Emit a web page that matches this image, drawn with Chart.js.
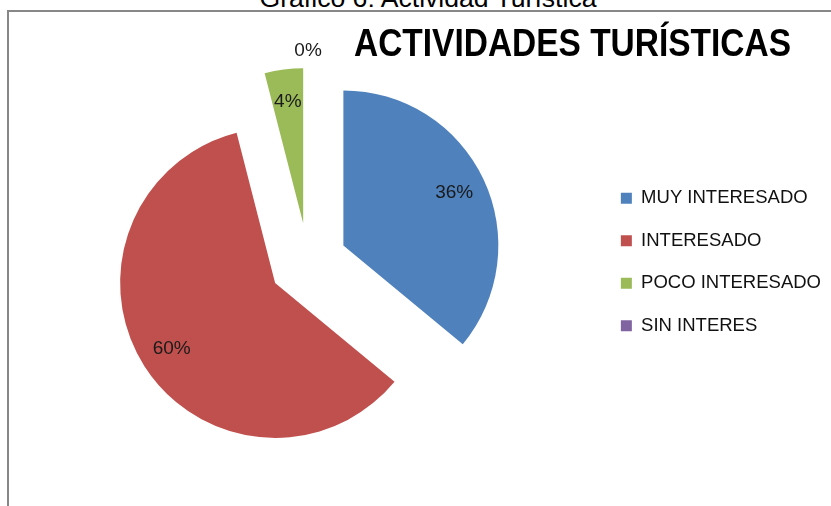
<!DOCTYPE html>
<html><head><meta charset="utf-8">
<script src="https://cdn.jsdelivr.net/npm/chart.js@4"></script>
<style>
html,body{margin:0;padding:0;width:831px;height:506px;overflow:hidden;background:#fff;}
#frame{position:absolute;left:7px;top:10px;width:900px;height:600px;border:2px solid #878787;box-sizing:border-box;}
#caption{position:absolute;left:0;top:-17px;width:856px;text-align:center;font-family:'Liberation Sans',Arial,sans-serif;font-size:26.6px;line-height:30px;color:#000;white-space:nowrap;}
#wrap{position:absolute;left:0;top:0;width:831px;height:506px;}
</style></head>
<body>
<div id="frame"></div>
<div id="caption">Gráfico 6: Actividad Turística</div>
<div id="wrap"><canvas id="c" width="831" height="506"></canvas></div>
<script>
const categories = ['MUY INTERESADO', 'INTERESADO', 'POCO INTERESADO', 'SIN INTERES'];
const percentages = [36, 60, 4, 0];
const sliceColors = ['#4F81BD', '#C0504D', '#9BBB59', '#8064A2'];
const chartTitle = 'ACTIVIDADES TURÍSTICAS';

const EXPLODE = 39;

const explodePlugin = {
  id: 'explode',
  beforeDatasetDraw(chart, args) {
    const ctx = chart.ctx;
    args.meta.data.forEach(arc => {
      const mid = (arc.startAngle + arc.endAngle) / 2;
      ctx.save();
      ctx.translate(Math.cos(mid) * EXPLODE, Math.sin(mid) * EXPLODE);
      arc.draw(ctx);
      ctx.restore();
    });
    return false;
  }
};

const labelPlugin = {
  id: 'sliceLabels',
  afterDatasetsDraw(chart) {
    const ctx = chart.ctx;
    const meta = chart.getDatasetMeta(0);
    const data = chart.data.datasets[0].data;
    ctx.save();
    ctx.font = "19px 'Liberation Sans', Arial, sans-serif";
    ctx.fillStyle = '#1a1a1a';
    ctx.textAlign = 'center';
    ctx.textBaseline = 'middle';
    meta.data.forEach((arc, i) => {
      const v = data[i];
      const mid = (arc.startAngle + arc.endAngle) / 2;
      const r = v > 0 ? EXPLODE + arc.outerRadius * 0.79 : EXPLODE + arc.outerRadius + 17;
      ctx.fillText(v + '%', arc.x + Math.cos(mid) * r, arc.y + Math.sin(mid) * r);
    });
    ctx.restore();
  }
};

// Chart title drawn as text, condensed to the width of the original (Calibri-like) heading
const titlePlugin = {
  id: 'condensedTitle',
  afterDraw(chart, args, opts) {
    const ctx = chart.ctx;
    ctx.save();
    ctx.font = "bold 39px 'Liberation Sans', Arial, sans-serif";
    ctx.fillStyle = '#000';
    ctx.textAlign = 'right';
    ctx.textBaseline = 'alphabetic';
    const w = ctx.measureText(opts.text).width;
    ctx.translate(opts.right, opts.baseline);
    ctx.scale(opts.width / w, 1);
    ctx.fillText(opts.text, 0, 0);
    ctx.restore();
  }
};

new Chart(document.getElementById('c'), {
  type: 'pie',
  data: {
    labels: categories,
    datasets: [{
      data: percentages,
      backgroundColor: sliceColors,
      borderWidth: 0,
      radius: 155,
      clip: false
    }]
  },
  options: {
    responsive: false,
    animation: false,
    devicePixelRatio: 1,
    layout: { padding: { left: 19.25, right: 0, top: 62, bottom: 44 } },
    plugins: {
      title: { display: false },
      condensedTitle: { text: chartTitle, right: 791, baseline: 56, width: 437 },
      legend: {
        position: 'right',
        labels: {
          boxWidth: 11,
          boxHeight: 11,
          padding: 24,
          color: '#111',
          font: { family: "'Liberation Sans', Arial, sans-serif", size: 18.5 }
        }
      },
      tooltip: { enabled: false }
    }
  },
  plugins: [explodePlugin, labelPlugin, titlePlugin]
});
</script>
</body></html>
